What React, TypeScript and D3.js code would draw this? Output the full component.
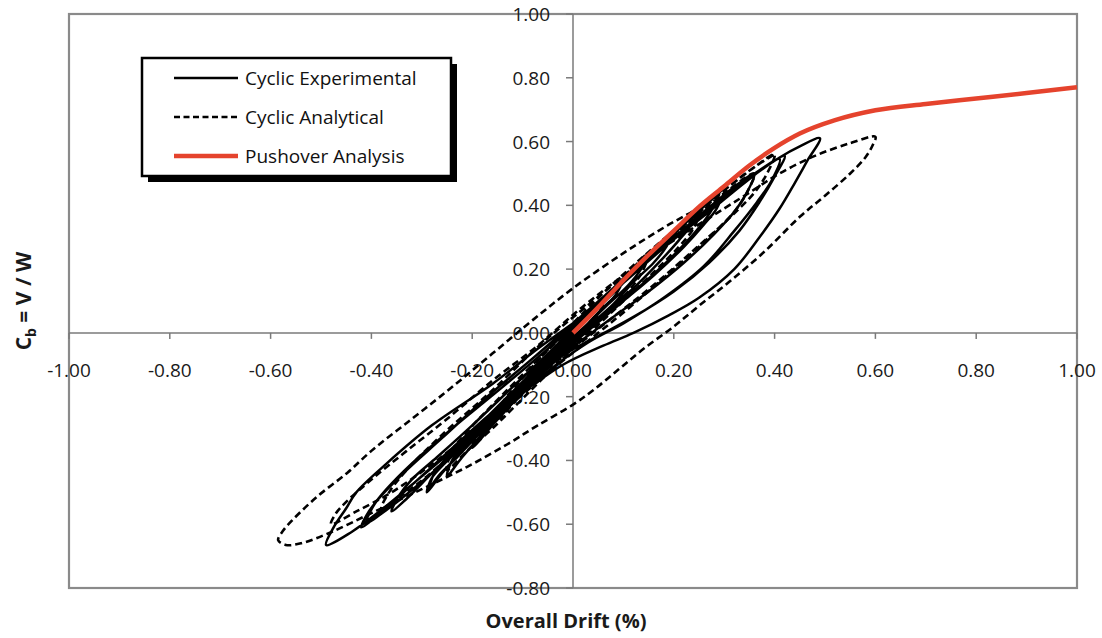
import React from "react";
import * as d3 from "d3";

type Pt = [number, number];

// axis ticks
const xTickValues = [-1, -0.8, -0.6, -0.4, -0.2, 0, 0.2, 0.4, 0.6, 0.8, 1];
const yTickValues = [-0.8, -0.6, -0.4, -0.2, 0, 0.2, 0.4, 0.6, 0.8, 1];
const seriesNames = ["Cyclic Experimental", "Cyclic Analytical", "Pushover Analysis"];

// Cyclic Experimental: drift (%), Cb — one continuous load path
const experimental: Pt[] = [
  [0, 0], [0.03, 0.05], [0.06, 0.1], [0.05, 0.06], [0.02, 0.01], [-0.01, -0.03], [-0.04, -0.07], [-0.06, -0.1],
  [-0.05, -0.07], [-0.02, -0.02], [0.02, 0.04], [0.06, 0.1], [0.1, 0.17],
  [0.085, 0.12], [0.06, 0.08], [0.03, 0.03], [0.0, -0.02], [-0.04, -0.08], [-0.07, -0.13], [-0.1, -0.18],
  [-0.09, -0.14], [-0.06, -0.09], [-0.02, -0.03], [0.03, 0.05], [0.08, 0.13], [0.12, 0.2], [0.15, 0.25],
  [0.135, 0.2], [0.11, 0.15], [0.07, 0.09], [0.03, 0.03], [-0.01, -0.03], [-0.05, -0.1], [-0.09, -0.17], [-0.12, -0.22], [-0.15, -0.27],
  [-0.14, -0.23], [-0.11, -0.18], [-0.07, -0.11], [-0.02, -0.03], [0.03, 0.05], [0.09, 0.14], [0.14, 0.23], [0.18, 0.29], [0.2, 0.32],
  [0.185, 0.27], [0.16, 0.22], [0.12, 0.16], [0.08, 0.09], [0.03, 0.02], [-0.02, -0.05], [-0.07, -0.13], [-0.12, -0.22], [-0.16, -0.29], [-0.2, -0.36],
  [-0.19, -0.32], [-0.16, -0.27], [-0.12, -0.2], [-0.07, -0.12], [-0.01, -0.02], [0.05, 0.08], [0.11, 0.18], [0.17, 0.27], [0.22, 0.34], [0.25, 0.39],
  [0.235, 0.34], [0.21, 0.29], [0.17, 0.22], [0.12, 0.14], [0.06, 0.06], [0.01, -0.01], [-0.05, -0.1], [-0.11, -0.2], [-0.17, -0.3], [-0.22, -0.39], [-0.25, -0.45],
  [-0.24, -0.4], [-0.21, -0.35], [-0.16, -0.27], [-0.1, -0.17], [-0.04, -0.07], [0.02, 0.04], [0.09, 0.15], [0.16, 0.25], [0.22, 0.34], [0.27, 0.41], [0.3, 0.45],
  [0.285, 0.39], [0.26, 0.34], [0.22, 0.27], [0.16, 0.18], [0.1, 0.1], [0.04, 0.02], [-0.02, -0.06], [-0.09, -0.16], [-0.16, -0.27], [-0.22, -0.37], [-0.26, -0.44], [-0.29, -0.5],
  [-0.28, -0.455], [-0.255, -0.41], [-0.21, -0.34], [-0.15, -0.24], [-0.08, -0.12], [-0.01, -0.01], [0.06, 0.1], [0.13, 0.21], [0.2, 0.31], [0.25, 0.39], [0.29, 0.44],
  [0.275, 0.385], [0.25, 0.33], [0.21, 0.26], [0.15, 0.17], [0.09, 0.09], [0.03, 0.01], [-0.03, -0.08], [-0.1, -0.18], [-0.17, -0.29], [-0.23, -0.39], [-0.265, -0.445], [-0.285, -0.485],
  [-0.275, -0.44], [-0.25, -0.39], [-0.2, -0.31], [-0.13, -0.2], [-0.06, -0.09], [0.01, 0.02], [0.08, 0.13], [0.16, 0.24], [0.23, 0.34], [0.29, 0.42], [0.33, 0.47], [0.36, 0.5],
  [0.345, 0.44], [0.32, 0.38], [0.28, 0.31], [0.22, 0.22], [0.15, 0.13], [0.08, 0.05], [0.02, -0.02], [-0.05, -0.1], [-0.13, -0.21], [-0.21, -0.33], [-0.28, -0.44], [-0.33, -0.52], [-0.36, -0.56],
  [-0.345, -0.51], [-0.32, -0.46], [-0.27, -0.39], [-0.2, -0.29], [-0.12, -0.17], [-0.04, -0.05], [0.03, 0.06], [0.11, 0.17], [0.19, 0.28], [0.27, 0.38], [0.34, 0.47], [0.39, 0.53], [0.42, 0.555],
  [0.4, 0.49], [0.37, 0.41], [0.33, 0.32], [0.27, 0.22], [0.2, 0.13], [0.12, 0.05], [0.05, -0.01], [-0.02, -0.07], [-0.1, -0.17], [-0.19, -0.29], [-0.28, -0.42], [-0.35, -0.52], [-0.39, -0.575], [-0.42, -0.61],
  [-0.405, -0.56], [-0.38, -0.51], [-0.33, -0.43], [-0.26, -0.33], [-0.17, -0.2], [-0.08, -0.08], [0.0, 0.03], [0.08, 0.14], [0.16, 0.25], [0.24, 0.35], [0.31, 0.44], [0.37, 0.51], [0.41, 0.545],
  [0.395, 0.48], [0.365, 0.41], [0.32, 0.32], [0.26, 0.21], [0.18, 0.11], [0.1, 0.03], [0.03, -0.03], [-0.05, -0.12], [-0.14, -0.24], [-0.23, -0.37], [-0.31, -0.48], [-0.37, -0.555], [-0.41, -0.595],
  [-0.395, -0.54], [-0.37, -0.49], [-0.32, -0.41], [-0.24, -0.3], [-0.14, -0.17], [-0.05, -0.05], [0.02, 0.05], [0.1, 0.16], [0.18, 0.27], [0.26, 0.37], [0.33, 0.46], [0.41, 0.55], [0.45, 0.585], [0.49, 0.61],
  [0.465, 0.54], [0.44, 0.47], [0.41, 0.39], [0.37, 0.3], [0.32, 0.2], [0.25, 0.11], [0.19, 0.055], [0.12, 0.0], [0.06, -0.04], [-0.02, -0.1], [-0.11, -0.2], [-0.21, -0.33], [-0.3, -0.45], [-0.38, -0.555], [-0.44, -0.625], [-0.49, -0.665],
  [-0.475, -0.61], [-0.45, -0.55], [-0.43, -0.5], [-0.37, -0.41], [-0.28, -0.29], [-0.16, -0.16], [-0.07, -0.05], [0.0, 0.03],
];

// Cyclic Analytical
const analytical: Pt[] = [
  [0, 0], [0.05, 0.09], [0.1, 0.17], [0.15, 0.25],
  [0.14, 0.2], [0.12, 0.15], [0.08, 0.08], [0.04, 0.02], [0.0, -0.04], [-0.05, -0.11], [-0.1, -0.19], [-0.15, -0.27],
  [-0.14, -0.22], [-0.11, -0.16], [-0.06, -0.07], [0.0, 0.03], [0.07, 0.14], [0.14, 0.24], [0.2, 0.32], [0.25, 0.38],
  [0.24, 0.33], [0.21, 0.27], [0.16, 0.19], [0.1, 0.1], [0.04, 0.01], [-0.02, -0.08], [-0.09, -0.19], [-0.16, -0.3], [-0.21, -0.37], [-0.25, -0.43],
  [-0.24, -0.37], [-0.21, -0.31], [-0.15, -0.21], [-0.08, -0.1], [0.0, 0.02], [0.08, 0.14], [0.16, 0.25], [0.24, 0.36], [0.31, 0.45], [0.36, 0.5],
  [0.345, 0.44], [0.32, 0.38], [0.27, 0.3], [0.2, 0.2], [0.12, 0.09], [0.05, 0.0], [-0.03, -0.1], [-0.12, -0.22], [-0.21, -0.34], [-0.29, -0.45], [-0.34, -0.51], [-0.38, -0.55],
  [-0.365, -0.5], [-0.33, -0.43], [-0.26, -0.32], [-0.16, -0.18], [-0.06, -0.03], [0.04, 0.1], [0.14, 0.23], [0.23, 0.35], [0.31, 0.46], [0.36, 0.52], [0.4, 0.56],
  [0.385, 0.5], [0.36, 0.44], [0.31, 0.36], [0.24, 0.26], [0.16, 0.15], [0.08, 0.05], [0.0, -0.05], [-0.08, -0.15], [-0.17, -0.27], [-0.27, -0.4], [-0.36, -0.5], [-0.43, -0.56], [-0.48, -0.6],
  [-0.47, -0.565], [-0.45, -0.53], [-0.4, -0.46], [-0.33, -0.37], [-0.25, -0.27], [-0.16, -0.15], [-0.07, -0.04], [0.01, 0.07], [0.1, 0.18], [0.2, 0.29], [0.3, 0.39], [0.36, 0.45], [0.41, 0.5], [0.48, 0.555], [0.55, 0.595], [0.6, 0.615],
  [0.595, 0.59], [0.58, 0.55], [0.55, 0.5], [0.5, 0.43], [0.45, 0.364], [0.38, 0.255], [0.31, 0.16], [0.25, 0.085], [0.2, 0.02], [0.14, -0.05], [0.09, -0.115], [0.04, -0.18], [0.0, -0.225], [-0.07, -0.29], [-0.131, -0.35], [-0.21, -0.42], [-0.3, -0.49], [-0.4, -0.565], [-0.48, -0.625], [-0.54, -0.66], [-0.57, -0.665], [-0.585, -0.65],
  [-0.575, -0.62], [-0.556, -0.586], [-0.508, -0.514], [-0.448, -0.439], [-0.4, -0.37], [-0.32, -0.27], [-0.24, -0.17], [-0.16, -0.065], [-0.08, 0.04], [0.0, 0.14], [0.1, 0.25], [0.18, 0.33], [0.252, 0.395], [0.31, 0.46], [0.36, 0.52], [0.4, 0.56],
];

// Pushover Analysis
const pushover: Pt[] = [
  [0, 0], [0.05, 0.08], [0.1, 0.165], [0.15, 0.245], [0.2, 0.32], [0.25, 0.395], [0.3, 0.46], [0.35, 0.525], [0.4, 0.58],
  [0.45, 0.625], [0.52, 0.667], [0.6, 0.698], [0.7, 0.718], [0.8, 0.735], [0.9, 0.752], [1.0, 0.77],
];

const WIDTH = 1102;
const HEIGHT = 638;
const plot = { left: 69, right: 1077, top: 14, bottom: 588 };
const font = "'Open Sans', sans-serif";
const red = "#e5432d";

export default function App() {
  const x = d3.scaleLinear().domain([-1, 1]).range([plot.left, plot.right]);
  const y = d3.scaleLinear().domain([-0.8, 1]).range([plot.bottom, plot.top]);
  const fmt = d3.formatLocale({ decimal: ".", thousands: ",", grouping: [3], currency: ["", ""], minus: "-" }).format(".2f");

  const loopLine = d3
    .line<Pt>()
    .x((d) => x(d[0]))
    .y((d) => y(d[1]))
    .curve(d3.curveCatmullRom.alpha(0.5));
  const pushLine = d3
    .line<Pt>()
    .x((d) => x(d[0]))
    .y((d) => y(d[1]))
    .curve(d3.curveMonotoneX);

  const x0 = x(0);
  const y0 = y(0);

  // legend
  const lg = { x: 142, y: 58, w: 309, h: 118 };
  const legendRows = [78, 117, 156];

  return (
    <svg
      width={WIDTH}
      height={HEIGHT}
      style={{ position: "absolute", left: 0, top: 0, background: "#fff" }}
      fontFamily={font}
    >
      <rect x={0} y={0} width={WIDTH} height={HEIGHT} fill="#fff" />
      {/* plot area border */}
      <rect
        x={plot.left}
        y={plot.top}
        width={plot.right - plot.left}
        height={plot.bottom - plot.top}
        fill="none"
        stroke="#8a8a8a"
        strokeWidth={2.2}
      />

      {/* axes through origin */}
      <line x1={plot.left} x2={plot.right} y1={y0} y2={y0} stroke="#7a7a7a" strokeWidth={1.5} />
      <line x1={x0} x2={x0} y1={plot.top} y2={plot.bottom} stroke="#7a7a7a" strokeWidth={1.5} />

      {xTickValues.map((v) => (
        <g key={"xt" + v}>
          <line x1={x(v)} x2={x(v)} y1={y0} y2={y0 + 6} stroke="#7a7a7a" strokeWidth={1.5} />
          <text x={x(v)} y={y0 + 44} textAnchor="middle" fontSize={19} fill="#1a1a1a">
            {fmt(v)}
          </text>
        </g>
      ))}
      {yTickValues.map((v) => (
        <g key={"yt" + v}>
          <line x1={x0 - 7} x2={x0} y1={y(v)} y2={y(v)} stroke="#7a7a7a" strokeWidth={1.5} />
          <text x={x0 - 23} y={y(v) + 7} textAnchor="end" fontSize={19} fill="#1a1a1a">
            {fmt(v)}
          </text>
        </g>
      ))}

      {/* axis titles */}
      <text x={566} y={628} textAnchor="middle" fontSize={20} fontWeight="bold" fill="#1a1a1a">
        Overall Drift (%)
      </text>
      <text
        transform="translate(31,301) rotate(-90)"
        textAnchor="middle"
        fontSize={21}
        fontWeight="bold"
        fill="#1a1a1a"
      >
        C<tspan fontSize={14} dy={5}>b</tspan>
        <tspan dy={-5}> = V / W</tspan>
      </text>

      {/* series */}
      <path d={loopLine(analytical) || ""} fill="none" stroke="#000" strokeWidth={2.6} strokeDasharray="7,4" />
      <path d={loopLine(experimental) || ""} fill="none" stroke="#000" strokeWidth={2.5} strokeLinejoin="round" />
      <path d={pushLine(pushover) || ""} fill="none" stroke={red} strokeWidth={4.5} strokeLinejoin="round" />

      {/* legend */}
      <rect x={lg.x + 6} y={lg.y + 6} width={lg.w} height={lg.h} fill="#000" />
      <rect x={lg.x} y={lg.y} width={lg.w} height={lg.h} fill="#fff" stroke="#000" strokeWidth={2.5} />
      {seriesNames.map((name, i) => (
        <g key={name}>
          <line
            x1={174}
            x2={238}
            y1={legendRows[i]}
            y2={legendRows[i]}
            stroke={i === 2 ? red : "#000"}
            strokeWidth={i === 2 ? 4.5 : 2.5}
            strokeDasharray={i === 1 ? "6,3.5" : undefined}
          />
          <text x={245} y={legendRows[i] + 7} fontSize={19} fill="#111">
            {name}
          </text>
        </g>
      ))}
    </svg>
  );
}
